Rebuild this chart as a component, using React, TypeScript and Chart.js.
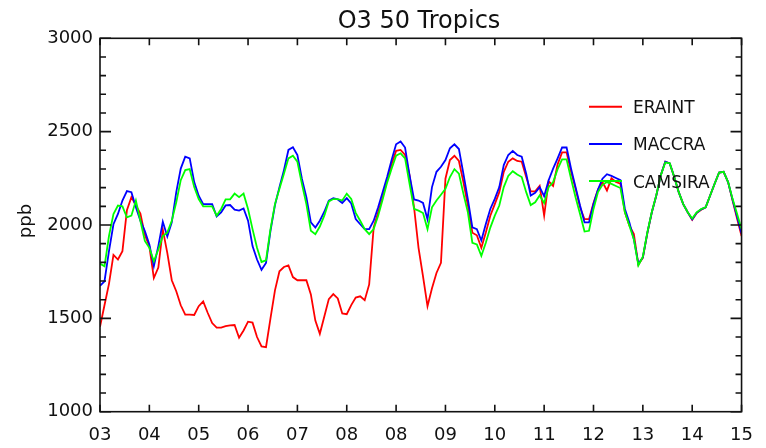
import React, { useEffect, useRef } from 'react';
import { Chart, registerables } from 'chart.js';

Chart.register(...registerables);

const TITLE = 'O3 50 Tropics';
const Y_LABEL = 'ppb';
const X_TICK_LABELS = ['03', '04', '05', '06', '07', '08', '08', '09', '10', '11', '12', '13', '14', '15'];
const Y_MIN = 1000;
const Y_MAX = 3000;
const Y_STEP = 500;
const Y_MINOR = 100;
const X_STEP = 11;

const ERAINT = [
  1455, 1570, 1685, 1840, 1815, 1860, 2079, 2149, 2105, 2061, 1947, 1886, 1716, 1772, 1975, 1851,
  1704, 1645, 1570, 1520, 1520, 1518, 1565, 1591, 1530, 1475, 1450, 1450, 1458, 1462, 1464, 1396,
  1435, 1482, 1477, 1400, 1350, 1346, 1500, 1650, 1752, 1775, 1784, 1721, 1704, 1704, 1704, 1628,
  1488, 1417, 1510, 1603, 1630, 1607, 1526, 1522, 1571, 1611, 1618, 1597, 1682, 1987, 2068, 2149,
  2240, 2325, 2397, 2402, 2375, 2266, 2095, 1878, 1725, 1565, 1661, 1743, 1797, 2248, 2348, 2371,
  2343, 2230, 2104, 1959, 1945, 1878, 1960, 2050, 2112, 2176, 2285, 2339, 2357, 2343, 2339, 2257,
  2180, 2180, 2209, 2050, 2234, 2209, 2325, 2389, 2389, 2285, 2194, 2095, 2031, 2031, 2118, 2190,
  2230, 2185, 2250, 2230, 2221, 2068, 1996, 1951, 1788, 1824, 1956, 2068, 2158, 2266, 2339, 2330,
  2257, 2176, 2112, 2068, 2028, 2064, 2082, 2095, 2158, 2221, 2281, 2285, 2230, 2131, 2035, 1941,
];

const MACCRA = [
  1674, 1698, 1860, 2004, 2059, 2131, 2182, 2176, 2095, 2023, 1968, 1896, 1779, 1887, 2017, 1938,
  2014, 2176, 2302, 2366, 2357, 2230, 2157, 2112, 2112, 2112, 2046, 2068, 2105, 2107, 2082, 2077,
  2089, 2023, 1887, 1815, 1760, 1797, 1969, 2107, 2203, 2294, 2402, 2416, 2375, 2248, 2149, 2014,
  1986, 2023, 2071, 2131, 2144, 2137, 2118, 2144, 2115, 2032, 2004, 1978, 1978, 2023, 2095, 2176,
  2257, 2348, 2432, 2447, 2415, 2266, 2137, 2131, 2118, 2031, 2203, 2285, 2312, 2348, 2411, 2432,
  2407, 2275, 2137, 1987, 1978, 1917, 2005, 2086, 2140, 2203, 2321, 2375, 2397, 2375, 2366, 2275,
  2158, 2172, 2203, 2154, 2240, 2302, 2357, 2415, 2415, 2302, 2203, 2104, 2014, 2014, 2112, 2190,
  2248, 2272, 2263, 2252, 2240, 2086, 2014, 1923, 1792, 1826, 1958, 2068, 2158, 2266, 2339, 2330,
  2257, 2176, 2112, 2068, 2030, 2066, 2084, 2095, 2158, 2221, 2281, 2285, 2230, 2135, 2045, 1955,
];

const CAMSIRA = [
  1793, 1779, 1941, 2059, 2104, 2100, 2041, 2050, 2131, 2023, 1915, 1878, 1806, 1869, 1941, 1959,
  2023, 2122, 2240, 2294, 2299, 2203, 2139, 2100, 2100, 2100, 2050, 2086, 2137, 2137, 2168, 2149,
  2168, 2086, 1978, 1878, 1802, 1811, 1978, 2112, 2194, 2275, 2357, 2371, 2339, 2221, 2112, 1969,
  1951, 1992, 2050, 2126, 2139, 2139, 2131, 2168, 2140, 2065, 2023, 1978, 1951, 1978, 2050, 2137,
  2227, 2302, 2371, 2384, 2357, 2221, 2086, 2077, 2064, 1978, 2095, 2131, 2162, 2194, 2257, 2299,
  2275, 2168, 2068, 1905, 1896, 1835, 1905, 1986, 2050, 2104, 2203, 2263, 2288, 2270, 2257, 2176,
  2107, 2122, 2158, 2118, 2203, 2230, 2299, 2352, 2352, 2248, 2149, 2059, 1965, 1969, 2086, 2176,
  2215, 2230, 2220, 2209, 2198, 2068, 1996, 1923, 1783, 1830, 1960, 2070, 2160, 2266, 2335, 2330,
  2257, 2176, 2112, 2068, 2035, 2068, 2086, 2095, 2158, 2221, 2281, 2285, 2230, 2140, 2060, 1978,
];

const SERIES_NAMES = ['ERAINT', 'MACCRA', 'CAMSIRA'];
const SERIES_COLORS = ['#ff0000', '#0000ff', '#00ff00'];
const SERIES_VALUES = [ERAINT, MACCRA, CAMSIRA];

const FONT = '"DejaVu Sans", "Liberation Sans", sans-serif';
const INK = '#111111';

const idlPlugin = {
  id: 'idlDecor',
  afterDraw(chart: any) {
    const { ctx, chartArea: a, scales } = chart;
    const xs = scales.x;
    const ys = scales.y;
    ctx.save();
    ctx.strokeStyle = INK;
    ctx.lineWidth = 1.6;
    ctx.strokeRect(a.left, a.top, a.right - a.left, a.bottom - a.top);
    ctx.beginPath();
    for (let v = Y_MIN; v <= Y_MAX; v += Y_MINOR) {
      const y = ys.getPixelForValue(v);
      const len = (v - Y_MIN) % Y_STEP === 0 ? 11 : 6;
      ctx.moveTo(a.left, y);
      ctx.lineTo(a.left + len, y);
      ctx.moveTo(a.right, y);
      ctx.lineTo(a.right - len, y);
    }
    const xmax = xs.max;
    for (let t = 0; t <= xmax + 0.001; t += X_STEP) {
      const x = xs.getPixelForValue(t);
      ctx.moveTo(x, a.bottom);
      ctx.lineTo(x, a.bottom - 7);
      ctx.moveTo(x, a.top);
      ctx.lineTo(x, a.top + 7);
    }
    ctx.stroke();

    ctx.fillStyle = INK;
    ctx.font = `24px ${FONT}`;
    ctx.textAlign = 'center';
    ctx.textBaseline = 'alphabetic';
    ctx.fillText(TITLE, 419, 27.5);

    ctx.save();
    ctx.translate(26, 221);
    ctx.rotate(-Math.PI / 2);
    ctx.font = `18px ${FONT}`;
    ctx.textAlign = 'center';
    ctx.textBaseline = 'middle';
    ctx.fillText(Y_LABEL, 0, 0);
    ctx.restore();

    ctx.font = `17px ${FONT}`;
    ctx.textAlign = 'left';
    ctx.textBaseline = 'alphabetic';
    SERIES_NAMES.forEach((name, k) => {
      const y = 106.7 + k * 37.2;
      ctx.strokeStyle = SERIES_COLORS[k];
      ctx.lineWidth = 2;
      ctx.beginPath();
      ctx.moveTo(589, y);
      ctx.lineTo(622, y);
      ctx.stroke();
      ctx.fillStyle = INK;
      ctx.fillText(name, 633, y + 6.4);
    });
    ctx.restore();
  },
};

export default function App() {
  const ref = useRef<HTMLCanvasElement | null>(null);

  useEffect(() => {
    document.body.style.margin = '0';
    const canvas = ref.current;
    if (!canvas) return;
    const n = ERAINT.length;
    const chart = new Chart(canvas, {
      type: 'line',
      data: {
        datasets: SERIES_VALUES.map((vals, k) => ({
          label: SERIES_NAMES[k],
          data: vals.map((v, i) => ({ x: i, y: v })),
          borderColor: SERIES_COLORS[k],
          backgroundColor: SERIES_COLORS[k],
          borderWidth: 1.8,
          pointRadius: 0,
          tension: 0,
          fill: false,
          order: 2 - k,
        })),
      },
      options: {
        responsive: false,
        animation: false,
        devicePixelRatio: 1,
        layout: { padding: { left: 0, right: 14, top: 38.3, bottom: 0 } },
        plugins: {
          legend: { display: false },
          title: { display: false },
          tooltip: { enabled: false },
        },
        scales: {
          x: {
            type: 'linear',
            min: 0,
            max: n - 1,
            grid: { display: false, drawTicks: false },
            border: { display: false },
            ticks: {
              stepSize: X_STEP,
              autoSkip: false,
              maxRotation: 0,
              padding: 13,
              color: INK,
              font: { family: FONT, size: 18 },
              callback: (v: any) => {
                const idx = Math.round(Number(v) / X_STEP);
                return X_TICK_LABELS[idx] ?? '';
              },
            },
            afterFit: (s: any) => {
              s.height = 36.3;
            },
          },
          y: {
            type: 'linear',
            min: Y_MIN,
            max: Y_MAX,
            grid: { display: false, drawTicks: false },
            border: { display: false },
            ticks: {
              stepSize: Y_STEP,
              padding: 7,
              color: INK,
              font: { family: FONT, size: 18 },
              callback: (v: any) => String(v),
            },
            afterFit: (s: any) => {
              s.width = 100;
            },
          },
        },
      },
      plugins: [idlPlugin],
    });
    return () => chart.destroy();
  }, []);

  return (
    <div style={{ position: 'absolute', left: 0, top: 0, width: 766, height: 448, background: '#fff' }}>
      <canvas ref={ref} width={766} height={448} style={{ display: 'block' }} />
    </div>
  );
}
